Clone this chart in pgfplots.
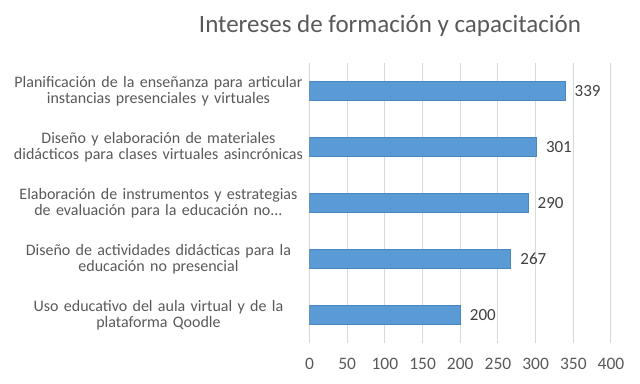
\documentclass[border=0pt]{standalone}
\usepackage{pgfplots}
\pgfplotsset{compat=1.18}
\usepackage{fontspec}
\setmainfont{Carlito}
\definecolor{barblue}{HTML}{5B9BD5}
\definecolor{barline}{HTML}{4A86C0}
\definecolor{txtgray}{HTML}{595959}
\definecolor{gridgray}{HTML}{D9D9D9}
\begin{document}
\begin{tikzpicture}
\useasboundingbox (0,0) rectangle (640pt,383pt);
\begin{axis}[
  at={(309.5pt,40pt)}, anchor=south west,
  scale only axis, width=301.5pt, height=280pt,
  xbar, bar width=19pt,
  xmin=0, xmax=400, ymin=-0.5, ymax=4.5,
  xtick={0,50,100,150,200,250,300,350,400},
  ytick={0,1,2,3,4},
  yticklabels={
    {Uso educativo del aula virtual y de la\\plataforma Qoodle},
    {Diseño de actividades didácticas para la\\educación no presencial},
    {Elaboración de instrumentos y estrategias\\de evaluación para la educación no{.}{.}{.}},
    {Diseño y elaboración de materiales\\didácticos para clases virtuales asincrónicas},
    {Planificación de la enseñanza para articular\\instancias presenciales y virtuales}},
  yticklabel style={align=center, text width=305pt, font=\fontsize{16}{16}\selectfont, text=txtgray, xshift=5pt},
  xticklabel style={font=\fontsize{17.5}{20}\selectfont, text=txtgray, yshift=-12pt},
  /pgf/number format/assume math mode=true,
  major tick length=0pt,
  xtick style={draw=none}, ytick style={draw=none},
  axis line style={draw=none},
  xmajorgrids, ymajorgrids=false, grid style={draw=gridgray, line width=1pt},
  title={Intereses de formación y capacitación},
  title style={at={(0.267,1)}, anchor=center, yshift=31pt, font=\fontsize{25}{28}\selectfont, text=txtgray},
  nodes near coords,
  nodes near coords style={font=\fontsize{17}{20}\selectfont, text=black!75, anchor=west, xshift=6pt},
  every node near coord/.append style={/pgf/number format/assume math mode=true},
]
\addplot[fill=barblue, draw=barline, line width=0.6pt] coordinates {(200,0) (267,1) (290,2) (301,3) (339,4)};
\end{axis}
\end{tikzpicture}
\end{document}
